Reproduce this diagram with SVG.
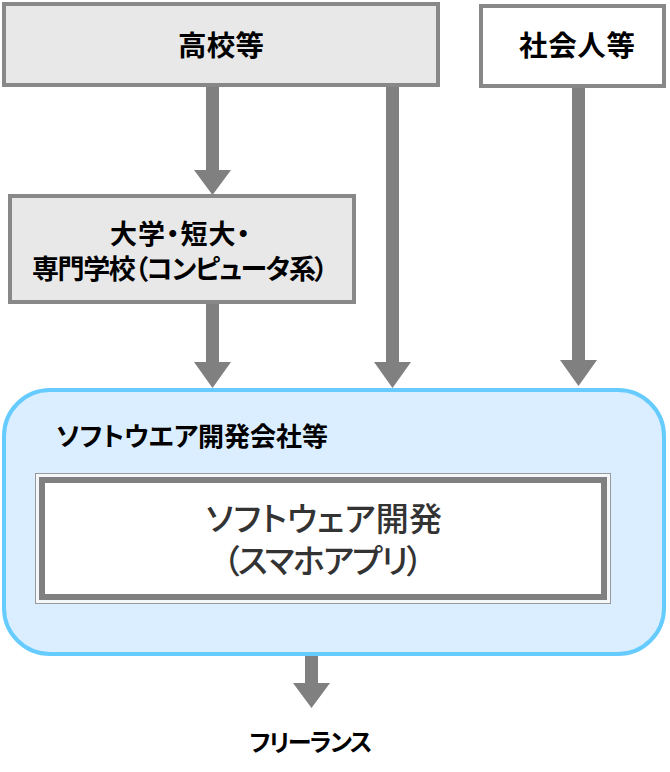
<svg xmlns="http://www.w3.org/2000/svg" width="670" height="772" viewBox="0 0 670 772">
<style>
.box{stroke:#888888;stroke-width:4}
.t{font-family:"Noto Sans CJK JP","Noto Sans",sans-serif;font-weight:700;fill:#000;text-anchor:middle;font-feature-settings:"palt"}
.m{font-family:"Noto Sans CJK JP","Noto Sans",sans-serif;font-weight:500;fill:#333333;text-anchor:middle;font-feature-settings:"palt"}
.arr{fill:#808080}
</style>
<rect width="670" height="772" fill="#ffffff"/>
<g id="connectors">
<polygon class="arr" points="206,86 219,86 219,170 231,170 212.5,195 194,170 206,170"/>
<polygon class="arr" points="206,303 219,303 219,362 231,362 212.5,388 194,362 206,362"/>
<polygon class="arr" points="386,86 399,86 399,362 411,362 392.5,388 374,362 386,362"/>
<polygon class="arr" points="572,87 585,87 585,360 597,360 578.5,386 560,360 572,360"/>
<polygon class="arr" points="305,655 318,655 318,683 330,683 311.5,708 293,683 305,683"/>
</g>
<g id="koukou">
<rect class="box" x="4" y="4" width="434" height="81" fill="#e8e8e8"/>
<text class="t" x="221" y="56" font-size="28.5" textLength="86">高校等</text>
</g>
<g id="shakaijin">
<rect class="box" x="481" y="6" width="183" height="80" fill="#ffffff"/>
<text class="t" x="577" y="56" font-size="28.5" textLength="116">社会人等</text>
</g>
<g id="daigaku">
<rect class="box" x="10" y="196" width="344" height="106" fill="#e8e8e8"/>
<text class="t" x="180" y="244" font-size="27" textLength="140">大学・短大・</text>
<text class="t" x="180" y="279" font-size="27" textLength="296">専門学校（コンピュータ系）</text>
</g>
<g id="company">
<rect x="4" y="390" width="660" height="264" rx="46" ry="46" fill="#dbeeff" stroke="#66ccff" stroke-width="4"/>
<text class="t" x="192" y="446" font-size="26" textLength="272">ソフトウエア開発会社等</text>
</g>
<g id="dev">
<rect x="35.5" y="473.5" width="575" height="130" fill="#f4f8fb" stroke="#999999" stroke-width="1"/>
<rect x="42" y="480" width="562" height="117" fill="#ffffff" stroke="#808080" stroke-width="6"/>
<text class="m" x="324" y="531" font-size="33" textLength="236">ソフトウェア開発</text>
<text class="m" x="323" y="573" font-size="33" textLength="200">（スマホアプリ）</text>
</g>
<g id="freelance">
<text class="t" x="311" y="751" font-size="24" textLength="123">フリーランス</text>
</g>
</svg>
